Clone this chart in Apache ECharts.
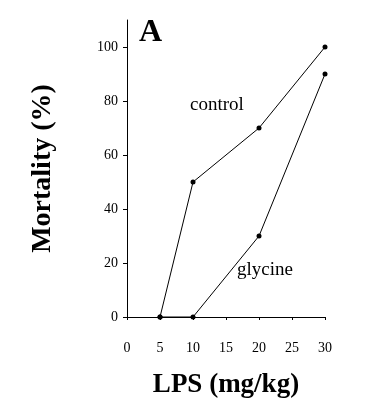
<!DOCTYPE html>
<html><head><meta charset="utf-8">
<script src="https://cdn.jsdelivr.net/npm/echarts@6/dist/echarts.min.js"></script>
<style>html,body{margin:0;padding:0;background:#fff}#c{width:387px;height:410px}</style>
</head><body><div id="c"></div>
<script>
const doses = [5, 10, 20, 30];
const control = [0, 50, 70, 100];
const glycine = [0, 0, 30, 90];
const xTicks = [0, 5, 10, 15, 20, 25, 30];
const yTicks = [0, 20, 40, 60, 80, 100];

const font = 'Liberation Serif';
const chart = echarts.init(document.getElementById('c'));
const pts = (ys) => doses.map((d, i) => [d, ys[i]]);
chart.setOption({
  animation: false,
  backgroundColor: '#fff',
  grid: { left: 127, right: 62, top: 20, bottom: 93 },
  xAxis: {
    type: 'value', min: 0, max: 30, interval: 5, offset: 10,
    name: 'LPS (mg/kg)', nameLocation: 'middle', nameGap: 45,
    nameTextStyle: { fontFamily: font, fontSize: 27, fontWeight: 'bold', color: '#000' },
    axisLine: { show: true, lineStyle: { color: '#000', width: 1 } },
    axisTick: { show: true, length: 3, lineStyle: { color: '#000' }, customValues: xTicks },
    axisLabel: { fontFamily: font, fontSize: 14, color: '#000', margin: 14, customValues: xTicks },
    splitLine: { show: false }
  },
  yAxis: {
    type: 'value', min: 0, max: 110, interval: 20,
    name: 'Mortality (%)', nameLocation: 'middle', nameGap: 70,
    nameTextStyle: { fontFamily: font, fontSize: 28, fontWeight: 'bold', color: '#000' },
    axisLine: { show: true, lineStyle: { color: '#000', width: 1 } },
    axisTick: { show: true, length: 4, lineStyle: { color: '#000' }, customValues: yTicks },
    axisLabel: { fontFamily: font, fontSize: 14, color: '#000', margin: 9, customValues: yTicks },
    splitLine: { show: false }
  },
  series: [
    { type: 'line', data: pts(control), symbol: 'circle', symbolSize: 5,
      lineStyle: { color: '#000', width: 1 }, itemStyle: { color: '#000' } },
    { type: 'line', data: pts(glycine), symbol: 'circle', symbolSize: 5,
      lineStyle: { color: '#000', width: 1 }, itemStyle: { color: '#000' } }
  ],
  graphic: [
    { type: 'text', left: 139, top: 17, style: { text: 'A', font: 'bold 32px "Liberation Serif"', fill: '#000' } },
    { type: 'text', left: 190, top: 96, style: { text: 'control', font: '19px "Liberation Serif"', fill: '#000' } },
    { type: 'text', left: 237, top: 261, style: { text: 'glycine', font: '19px "Liberation Serif"', fill: '#000' } }
  ]
});
</script></body></html>
